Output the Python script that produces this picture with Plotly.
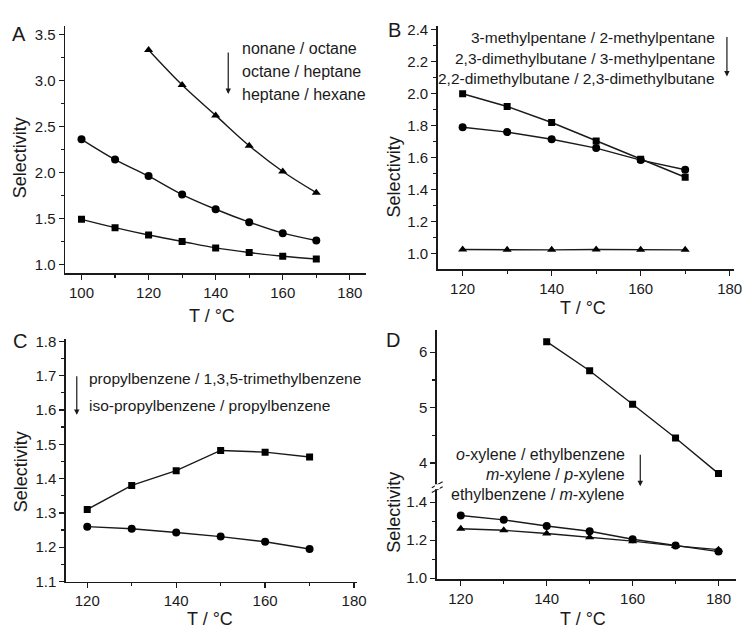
import plotly.graph_objects as go

W, H = 755, 637
FONT = "Liberation Sans, Arial, sans-serif"
INK = "#1a1a1a"

# ---------------- data ----------------
# Panel A
tA_all = [100, 110, 120, 130, 140, 150, 160, 170]
tA_tri = [120, 130, 140, 150, 160, 170]
nonane_octane = [3.33, 2.95, 2.62, 2.29, 2.01, 1.78]
octane_heptane = [2.36, 2.14, 1.96, 1.76, 1.60, 1.46, 1.34, 1.26]
heptane_hexane = [1.49, 1.40, 1.32, 1.25, 1.18, 1.13, 1.09, 1.06]
legendA = ["nonane / octane", "octane / heptane", "heptane / hexane"]

# Panel B
tB = [120, 130, 140, 150, 160, 170]
mp3_mp2 = [2.00, 1.92, 1.82, 1.705, 1.59, 1.478]
dmb23_mp3 = [1.79, 1.76, 1.715, 1.66, 1.585, 1.525]
dmb22_dmb23 = [1.026, 1.024, 1.024, 1.026, 1.024, 1.024]
legendB = ["3-methylpentane / 2-methylpentane",
           "2,3-dimethylbutane / 3-methylpentane",
           "2,2-dimethylbutane / 2,3-dimethylbutane"]

# Panel C
tC = [120, 130, 140, 150, 160, 170]
propyl_tmb = [1.31, 1.38, 1.423, 1.482, 1.477, 1.463]
isopropyl_propyl = [1.26, 1.254, 1.243, 1.231, 1.216, 1.195]
legendC = ["propylbenzene / 1,3,5-trimethylbenzene",
           "iso-propylbenzene / propylbenzene"]

# Panel D
tD_sq = [140, 150, 160, 170, 180]
tD = [120, 130, 140, 150, 160, 170, 180]
oxyl_eb = [6.19, 5.665, 5.06, 4.453, 3.81]
mxyl_pxyl = [1.33, 1.307, 1.275, 1.247, 1.205, 1.172, 1.14]
eb_mxyl = [1.26, 1.252, 1.235, 1.216, 1.195, 1.17, 1.15]
legendD = ["<i>o</i>-xylene / ethylbenzene",
           "<i>m</i>-xylene / <i>p</i>-xylene",
           "ethylbenzene / <i>m</i>-xylene"]

xtitle = "T / °C"
ytitle = "Selectivity"


def px(x):
    return x / W


def py(y):
    return 1 - y / H


fig = go.Figure()


def add(x, y, xa, ya, symbol, size, shape="linear"):
    fig.add_trace(go.Scatter(
        x=x, y=y, xaxis=xa, yaxis=ya, mode="lines+markers",
        line=dict(color=INK, width=1.4, shape=shape),
        marker=dict(symbol=symbol, size=size, color="black"),
        showlegend=False, hoverinfo="skip"))


# A
add(tA_tri, nonane_octane, "x", "y", "triangle-up", 8, "spline")
add(tA_all, octane_heptane, "x", "y", "circle", 8, "spline")
add(tA_all, heptane_hexane, "x", "y", "square", 7, "spline")
# B
add(tB, mp3_mp2, "x2", "y2", "square", 7)
add(tB, dmb23_mp3, "x2", "y2", "circle", 8)
add(tB, dmb22_dmb23, "x2", "y2", "triangle-up", 8)
# C
add(tC, propyl_tmb, "x3", "y3", "square", 7)
add(tC, isopropyl_propyl, "x3", "y3", "circle", 8)
# D
add(tD_sq, oxyl_eb, "x4", "y5", "square", 7)
add(tD, mxyl_pxyl, "x4", "y4", "circle", 8)
add(tD, eb_mxyl, "x4", "y4", "triangle-up", 8)

tickfont = dict(family=FONT, size=15, color=INK)


def xax(domain, rng, anchor, tick0=120):
    return dict(domain=domain, range=rng, anchor=anchor, showgrid=False,
                zeroline=False, showline=True, linecolor=INK, linewidth=1.5,
                ticks="outside", ticklen=5, tickwidth=1.3, tickcolor=INK,
                tick0=tick0, dtick=20, tickfont=tickfont, fixedrange=True,
                minor=dict(ticks="outside", ticklen=3, dtick=10, tick0=tick0,
                           tickcolor=INK, tickwidth=1.2))


def yax(domain, rng, anchor, dtick, tick0, mdtick, fmt=".1f"):
    return dict(domain=domain, range=rng, anchor=anchor, showgrid=False,
                zeroline=False, showline=True, linecolor=INK, linewidth=1.5,
                ticks="outside", ticklen=5, tickwidth=1.3, tickcolor=INK,
                tick0=tick0, dtick=dtick, tickformat=fmt, tickfont=tickfont,
                fixedrange=True,
                minor=dict(ticks="outside", ticklen=3, dtick=mdtick, tick0=tick0,
                           tickcolor=INK, tickwidth=1.2))


fig.update_layout(
    width=W, height=H, margin=dict(l=0, r=0, t=0, b=0),
    paper_bgcolor="white", plot_bgcolor="white",
    font=dict(family=FONT, color=INK),
    xaxis=xax([px(66), px(370)], [95.14, 184.7], "y", tick0=100),
    yaxis=yax([py(273.3), py(20)], [0.904, 3.596], "x", 0.5, 1.0, 0.25),
    xaxis2=xax([px(443), px(743)], [114.4, 181.0], "y2"),
    yaxis2=yax([py(269.3), py(20)], [0.902, 2.426], "x2", 0.2, 1.0, 0.1),
    xaxis3=xax([px(66.7), px(361.7)], [115.2, 180.75], "y3"),
    yaxis3=yax([py(588.5), py(340)], [1.1, 1.808], "x3", 0.1, 1.1, 0.05),
    xaxis4=xax([px(442), px(745)], [114.4, 184.1], "y4"),
    yaxis4=yax([py(586), py(492)], [0.995, 1.479], "x4", 0.2, 1.0, 0.1),
    yaxis5=yax([py(490), py(331)], [3.6, 6.406], "x4", 1, 4, 0.5, fmt="d"),
)

ann = []


def text(x, y, s, size=16, xanchor="center", textangle=0):
    ann.append(dict(x=px(x), y=py(y), xref="paper", yref="paper", text=s,
                    showarrow=False, xanchor=xanchor, yanchor="middle",
                    textangle=textangle,
                    font=dict(family=FONT, size=size, color=INK)))


def arrow(x, y0, y1):
    ann.append(dict(x=px(x), y=py(y1), xref="paper", yref="paper", text="",
                    showarrow=True, ax=0, ay=-(y1 - y0), arrowhead=2,
                    arrowsize=0.9, arrowwidth=1.2, arrowcolor=INK))


# panel letters
text(19, 29, "A", size=20)
text(399, 25, "B", size=20)
text(20, 343, "C", size=20)
text(398, 341, "D", size=20)

# axis titles
text(215, 317, xtitle, size=18)
text(590, 309, xtitle, size=18)
text(213, 627, xtitle, size=18)
text(590, 627, xtitle, size=18)
text(20, 155, ytitle, size=18, textangle=-90)
text(399, 175, ytitle, size=18, textangle=-90)
text(21, 476, ytitle, size=18, textangle=-90)
text(398, 518, ytitle, size=18, textangle=-90)

# legends
for s, yy in zip(legendA, [43, 67, 90.7]):
    text(243, yy, s, size=16, xanchor="left")
arrow(231, 47, 90)

for s, yy in zip(legendB, [32.7, 53.5, 74]):
    text(726, yy, s, size=15.5, xanchor="right")
arrow(735.7, 31, 72)

for s, yy in zip(legendC, [381.3, 408]):
    text(88.3, yy, s, size=15.5, xanchor="left")
arrow(77.7, 378, 418)

for s, yy in zip(legendD, [458.7, 479, 499]):
    text(634.7, yy, s, size=16, xanchor="right")
arrow(648, 458, 491)

fig.update_layout(annotations=ann)

# axis break marks on panel D
shapes = []
for dy in (0, 5):
    shapes.append(dict(type="line", xref="paper", yref="paper",
                       x0=px(437), x1=px(448), y0=py(495 + dy - 2.5),
                       y1=py(489 + dy - 2.5),
                       line=dict(color=INK, width=1.2)))
shapes.append(dict(type="rect", xref="paper", yref="paper",
                   x0=px(440), x1=px(445), y0=py(494), y1=py(489),
                   fillcolor="white", line=dict(width=0), layer="above"))
fig.update_layout(shapes=shapes)

fig.write_html("out.html",
               config={"displayModeBar": False, "staticPlot": True},
               post_script="document.body.style.margin='0px';"
                           "document.body.style.overflow='hidden';")
